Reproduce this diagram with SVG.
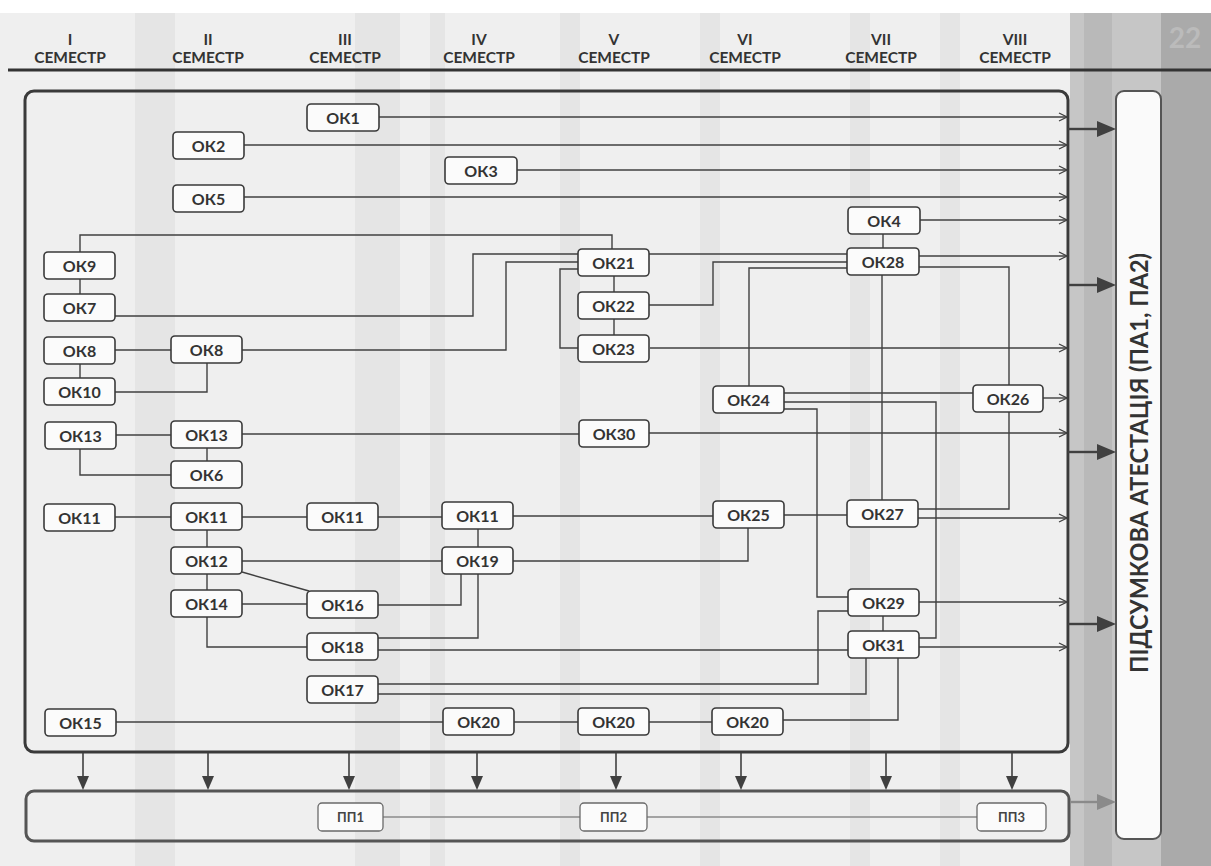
<svg xmlns="http://www.w3.org/2000/svg" width="1211" height="866" viewBox="0 0 1211 866">
<defs>
<style>
.n rect{fill:#fbfbfb;stroke:#3a3a3a;stroke-width:1.6}
.n text{font-family:Lato,"Noto Sans",sans-serif;font-weight:700;font-size:16px;fill:#333;text-anchor:middle}
.p rect{fill:#fbfbfb;stroke:#6a6a6a;stroke-width:1.3}
.p text{font-family:Lato,"Noto Sans",sans-serif;font-weight:700;font-size:13px;fill:#444;text-anchor:middle}
.c path{fill:none;stroke:#404040;stroke-width:1.4}
.c path.a{marker-end:url(#chev)}
.hdr text{font-family:Lato,"Noto Sans",sans-serif;font-weight:700;font-size:15.5px;fill:#333;text-anchor:middle}
.big line{stroke:#404040;stroke-width:2.4}
.big polygon{fill:#404040}
</style>
<marker id="chev" markerWidth="10" markerHeight="10" refX="9" refY="5" orient="auto" markerUnits="userSpaceOnUse">
<path d="M1,1 L9,5 L1,9" fill="none" stroke="#404040" stroke-width="1.3"/>
</marker>
</defs>

<!-- background -->
<rect x="0" y="0" width="1211" height="866" fill="#efefef"/>
<rect x="0" y="0" width="1211" height="13" fill="#ffffff"/>
<g fill="#e5e5e5">
<rect x="135" y="13" width="40" height="853"/>
<rect x="355" y="13" width="45" height="853"/>
<rect x="430" y="13" width="15" height="853"/>
<rect x="560" y="13" width="20" height="853"/>
<rect x="700" y="13" width="20" height="853"/>
<rect x="850" y="13" width="20" height="853"/>
<rect x="940" y="13" width="20" height="853"/>
</g>
<rect x="1070" y="13" width="141" height="853" fill="#c6c6c6"/>
<rect x="1084" y="13" width="28" height="853" fill="#b9b9b9"/>
<rect x="1161" y="13" width="50" height="853" fill="#aaaaaa"/>
<text x="1185" y="48" font-family="Lato,sans-serif" font-weight="700" font-size="28" fill="#bbbbbb" text-anchor="middle">22</text>

<!-- header -->
<g id="header" class="hdr">
<text x="70" y="45">I</text><text x="70" y="63">СЕМЕСТР</text>
<text x="208" y="45">II</text><text x="208" y="63">СЕМЕСТР</text>
<text x="345" y="45">III</text><text x="345" y="63">СЕМЕСТР</text>
<text x="479" y="45">IV</text><text x="479" y="63">СЕМЕСТР</text>
<text x="614" y="45">V</text><text x="614" y="63">СЕМЕСТР</text>
<text x="745" y="45">VI</text><text x="745" y="63">СЕМЕСТР</text>
<text x="881" y="45">VII</text><text x="881" y="63">СЕМЕСТР</text>
<text x="1015" y="45">VIII</text><text x="1015" y="63">СЕМЕСТР</text>
</g>
<line x1="8" y1="70" x2="1211" y2="70" stroke="#333" stroke-width="3"/>

<!-- containers -->
<g id="main-box">
<rect x="25" y="91" width="1043" height="661" rx="9" fill="none" stroke="#3a3a3a" stroke-width="3"/>
</g>
<g id="pp-box">
<rect x="26" y="791" width="1043" height="50" rx="8" fill="none" stroke="#555" stroke-width="3"/>
</g>
<g id="attestation">
<rect x="1116" y="91" width="45" height="748" rx="8" fill="#fafafa" stroke="#555" stroke-width="2"/>
<text transform="translate(1148,463) rotate(-90)" text-anchor="middle" font-family="Lato,'Noto Sans',sans-serif" font-weight="700" font-size="24" fill="#333" textLength="420" lengthAdjust="spacingAndGlyphs">ПІДСУМКОВА АТЕСТАЦІЯ (ПА1, ПА2)</text>
</g>

<!-- connectors -->
<g id="connectors" class="c">
<path class="a" d="M379,117 H1067"/>
<path class="a" d="M244,145 H1067"/>
<path class="a" d="M517,170 H1067"/>
<path class="a" d="M244,197 H1067"/>
<path class="a" d="M920,220 H1067"/>
<path class="a" d="M919,256 H1067"/>
<path class="a" d="M650,348 H1067"/>
<path class="a" d="M1043,398 H1067"/>
<path class="a" d="M649,433 H1067"/>
<path class="a" d="M918,518 H1067"/>
<path class="a" d="M919,602 H1067"/>
<path class="a" d="M919,647 H1067"/>

<path d="M80,252 V235 H612 V249"/>
<path d="M80,279 V294"/>
<path d="M115,316 H473 V254 H578"/>
<path d="M115,350 H171"/>
<path d="M242,350 H506 V262 H578"/>
<path d="M80,364 V378"/>
<path d="M115,392 H207 V363"/>
<path d="M614,276 V292"/>
<path d="M614,319 V335"/>
<path d="M578,269 H560 V348 H578"/>
<path d="M649,254 H847"/>
<path d="M649,305 H713 V262 H847"/>
<path d="M749,386 V268 H847"/>
<path d="M883,234 V248"/>
<path d="M882,275 V500"/>
<path d="M919,267 H1009 V385"/>
<path d="M784,393 H973"/>
<path d="M784,402 H936 V638 H919"/>
<path d="M784,409 H817 V597 H848"/>
<path d="M918,509 H1009 V412"/>
<path d="M116,435 H171"/>
<path d="M80,449 V475 H171"/>
<path d="M207,448 V461"/>
<path d="M242,434 H579"/>
<path d="M115,517 H171"/>
<path d="M242,517 H307"/>
<path d="M378,517 H442"/>
<path d="M513,516 H713"/>
<path d="M784,515 H847"/>
<path d="M207,530 V547"/>
<path d="M207,574 V590"/>
<path d="M242,561 H442"/>
<path d="M242,572 L309,591"/>
<path d="M242,604 H307"/>
<path d="M207,617 V647 H307"/>
<path d="M378,605 H461 V574"/>
<path d="M478,529 V547"/>
<path d="M513,561 H748 V528"/>
<path d="M378,638 H478 V574"/>
<path d="M378,650 H848"/>
<path d="M378,684 H818 V611 H848"/>
<path d="M378,694 H866 V658"/>
<path d="M883,616 V631"/>
<path d="M898,658 V720 H783"/>
<path d="M116,722 H443"/>
<path d="M514,722 H578"/>
<path d="M649,722 H712"/>
<path d="M383,817 H580" style="stroke:#8a8a8a"/>
<path d="M647,817 H977" style="stroke:#8a8a8a"/>
</g>

<!-- big arrows -->
<g id="arrows" class="big">
<line x1="1068" y1="129" x2="1100" y2="129"/><polygon points="1097,121 1116,129 1097,137"/>
<line x1="1068" y1="285" x2="1100" y2="285"/><polygon points="1097,277 1116,285 1097,293"/>
<line x1="1068" y1="452" x2="1100" y2="452"/><polygon points="1097,444 1116,452 1097,460"/>
<line x1="1068" y1="624" x2="1100" y2="624"/><polygon points="1097,616 1116,624 1097,632"/>
<line x1="1070" y1="802" x2="1100" y2="802" style="stroke:#8a8a8a"/><polygon points="1097,794 1116,802 1097,810" style="fill:#8a8a8a"/>
</g>
<g id="down-arrows" stroke="#404040" stroke-width="1.6" fill="#404040">
<line x1="83" y1="753" x2="83" y2="778"/><polygon points="77,776 89,776 83,790" stroke="none"/>
<line x1="208" y1="753" x2="208" y2="778"/><polygon points="202,776 214,776 208,790" stroke="none"/>
<line x1="349" y1="753" x2="349" y2="778"/><polygon points="343,776 355,776 349,790" stroke="none"/>
<line x1="477" y1="753" x2="477" y2="778"/><polygon points="471,776 483,776 477,790" stroke="none"/>
<line x1="616" y1="753" x2="616" y2="778"/><polygon points="610,776 622,776 616,790" stroke="none"/>
<line x1="741" y1="753" x2="741" y2="778"/><polygon points="735,776 747,776 741,790" stroke="none"/>
<line x1="886" y1="753" x2="886" y2="778"/><polygon points="880,776 892,776 886,790" stroke="none"/>
<line x1="1012" y1="753" x2="1012" y2="778"/><polygon points="1006,776 1018,776 1012,790" stroke="none"/>
</g>

<!-- nodes -->
<g id="ok1" class="n"><rect x="307" y="104" width="72" height="27" rx="4"/><text x="343" y="123.5">ОК1</text></g>
<g id="ok2" class="n"><rect x="173" y="132" width="71" height="27" rx="4"/><text x="208.5" y="151.5">ОК2</text></g>
<g id="ok3" class="n"><rect x="445" y="157" width="72" height="27" rx="4"/><text x="481" y="176.5">ОК3</text></g>
<g id="ok5" class="n"><rect x="173" y="185" width="71" height="27" rx="4"/><text x="208.5" y="204.5">ОК5</text></g>
<g id="ok4" class="n"><rect x="848" y="207" width="72" height="27" rx="4"/><text x="884" y="226.5">ОК4</text></g>
<g id="ok9" class="n"><rect x="44" y="252" width="71" height="27" rx="4"/><text x="79.5" y="271.5">ОК9</text></g>
<g id="ok21" class="n"><rect x="578" y="249" width="71" height="27" rx="4"/><text x="613.5" y="268.5">ОК21</text></g>
<g id="ok28" class="n"><rect x="847" y="248" width="72" height="27" rx="4"/><text x="883" y="267.5">ОК28</text></g>
<g id="ok22" class="n"><rect x="578" y="292" width="71" height="27" rx="4"/><text x="613.5" y="311.5">ОК22</text></g>
<g id="ok7" class="n"><rect x="44" y="294" width="71" height="27" rx="4"/><text x="79.5" y="313.5">ОК7</text></g>
<g id="ok23" class="n"><rect x="578" y="335" width="71" height="27" rx="4"/><text x="613.5" y="354.5">ОК23</text></g>
<g id="ok8-1" class="n"><rect x="44" y="337" width="71" height="27" rx="4"/><text x="79.5" y="356.5">ОК8</text></g>
<g id="ok8-2" class="n"><rect x="171" y="336" width="71" height="27" rx="4"/><text x="206.5" y="355.5">ОК8</text></g>
<g id="ok10" class="n"><rect x="44" y="378" width="71" height="27" rx="4"/><text x="79.5" y="397.5">ОК10</text></g>
<g id="ok24" class="n"><rect x="713" y="386" width="71" height="27" rx="4"/><text x="748.5" y="405.5">ОК24</text></g>
<g id="ok26" class="n"><rect x="973" y="385" width="70" height="27" rx="4"/><text x="1008" y="404.5">ОК26</text></g>
<g id="ok13-1" class="n"><rect x="45" y="422" width="71" height="27" rx="4"/><text x="80.5" y="441.5">ОК13</text></g>
<g id="ok13-2" class="n"><rect x="171" y="421" width="71" height="27" rx="4"/><text x="206.5" y="440.5">ОК13</text></g>
<g id="ok30" class="n"><rect x="579" y="420" width="70" height="27" rx="4"/><text x="614" y="439.5">ОК30</text></g>
<g id="ok6" class="n"><rect x="171" y="461" width="71" height="27" rx="4"/><text x="206.5" y="480.5">ОК6</text></g>
<g id="ok11-1" class="n"><rect x="44" y="504" width="71" height="27" rx="4"/><text x="79.5" y="523.5">ОК11</text></g>
<g id="ok11-2" class="n"><rect x="171" y="503" width="71" height="27" rx="4"/><text x="206.5" y="522.5">ОК11</text></g>
<g id="ok11-3" class="n"><rect x="307" y="503" width="71" height="27" rx="4"/><text x="342.5" y="522.5">ОК11</text></g>
<g id="ok11-4" class="n"><rect x="442" y="502" width="71" height="27" rx="4"/><text x="477.5" y="521.5">ОК11</text></g>
<g id="ok25" class="n"><rect x="713" y="501" width="71" height="27" rx="4"/><text x="748.5" y="520.5">ОК25</text></g>
<g id="ok27" class="n"><rect x="847" y="500" width="71" height="27" rx="4"/><text x="882.5" y="519.5">ОК27</text></g>
<g id="ok12" class="n"><rect x="171" y="547" width="71" height="27" rx="4"/><text x="206.5" y="566.5">ОК12</text></g>
<g id="ok19" class="n"><rect x="442" y="547" width="71" height="27" rx="4"/><text x="477.5" y="566.5">ОК19</text></g>
<g id="ok14" class="n"><rect x="171" y="590" width="71" height="27" rx="4"/><text x="206.5" y="609.5">ОК14</text></g>
<g id="ok16" class="n"><rect x="307" y="591" width="71" height="27" rx="4"/><text x="342.5" y="610.5">ОК16</text></g>
<g id="ok29" class="n"><rect x="848" y="589" width="71" height="27" rx="4"/><text x="883.5" y="608.5">ОК29</text></g>
<g id="ok18" class="n"><rect x="307" y="633" width="71" height="27" rx="4"/><text x="342.5" y="652.5">ОК18</text></g>
<g id="ok31" class="n"><rect x="848" y="631" width="71" height="27" rx="4"/><text x="883.5" y="650.5">ОК31</text></g>
<g id="ok17" class="n"><rect x="307" y="676" width="71" height="27" rx="4"/><text x="342.5" y="695.5">ОК17</text></g>
<g id="ok15" class="n"><rect x="45" y="709" width="71" height="27" rx="4"/><text x="80.5" y="728.5">ОК15</text></g>
<g id="ok20-1" class="n"><rect x="443" y="708" width="71" height="27" rx="4"/><text x="478.5" y="727.5">ОК20</text></g>
<g id="ok20-2" class="n"><rect x="578" y="708" width="71" height="27" rx="4"/><text x="613.5" y="727.5">ОК20</text></g>
<g id="ok20-3" class="n"><rect x="712" y="708" width="71" height="27" rx="4"/><text x="747.5" y="727.5">ОК20</text></g>

<g id="pp1" class="p"><rect x="318" y="803" width="65" height="28" rx="4"/><text x="350.5" y="822">ПП1</text></g>
<g id="pp2" class="p"><rect x="580" y="803" width="67" height="28" rx="4"/><text x="613.5" y="822">ПП2</text></g>
<g id="pp3" class="p"><rect x="977" y="803" width="69" height="28" rx="4"/><text x="1011.5" y="822">ПП3</text></g>
</svg>
